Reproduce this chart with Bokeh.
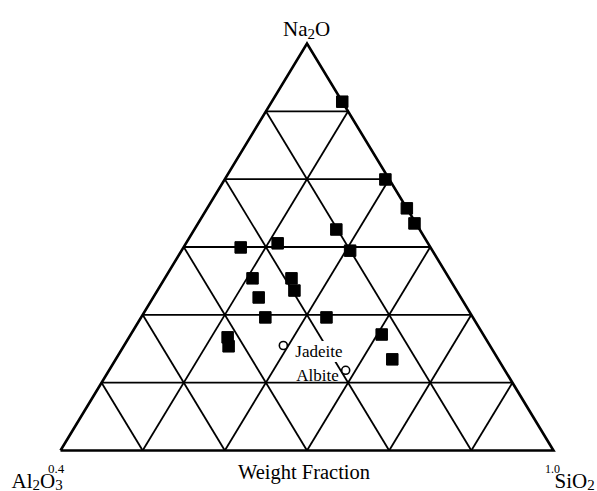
from bokeh.plotting import figure
from bokeh.models import Range1d
from bokeh.embed import file_html
from bokeh.resources import INLINE
from bokeh.core.properties import value

# ---- data (weight-fraction compositions, normalised to the diagram) ----
na2o  = [0.857, 0.666, 0.595, 0.558, 0.543, 0.491, 0.499, 0.509, 0.423,
         0.376, 0.423, 0.393, 0.327, 0.327, 0.278, 0.256, 0.285, 0.224]
sio2  = [0.143, 0.326, 0.405, 0.439, 0.288, 0.342, 0.116, 0.186, 0.178,
         0.214, 0.257, 0.278, 0.252, 0.376, 0.200, 0.213, 0.509, 0.561]
al2o3 = [0.000, 0.008, 0.000, 0.003, 0.169, 0.167, 0.385, 0.305, 0.399,
         0.410, 0.320, 0.329, 0.421, 0.297, 0.522, 0.531, 0.206, 0.215]

mineral_names = ["Jadeite", "Albite"]
mineral_na2o  = [0.258, 0.197]
mineral_sio2  = [0.323, 0.480]
mineral_al2o3 = [0.419, 0.323]

divisions = 6
tick_left, tick_right = "0.4", "1.0"
axis_title = "Weight Fraction"

FONT = "Liberation Serif"


def to_xy(na, si, al):
    xs, ys = [], []
    for a, b, c in zip(na, si, al):
        s = a + b + c
        xs.append(b / s + 0.5 * a / s)
        ys.append(a / s)
    return xs, ys


W, H = 597, 491
# triangle base from x=60..553 at y=450, apex at y=43 (canvas pixels)
p = figure(width=W, height=H, output_backend="svg", toolbar_location=None,
           min_border=0, x_range=Range1d(-60 / 493, -60 / 493 + W / 493),
           y_range=Range1d(-41 / 407, -41 / 407 + H / 407))
p.axis.visible = False
p.grid.visible = False
p.outline_line_color = None
p.background_fill_color = "white"
p.border_fill_color = "white"

# ---- internal grid ----
gx, gy = [], []
for k in range(1, divisions):
    f = k / divisions
    gx.append([f / 2, 1 - f / 2]); gy.append([f, f])
    gx.append([f, f + (1 - f) / 2]); gy.append([0, 1 - f])
    gx.append([1 - f, (1 - f) / 2]); gy.append([0, 1 - f])
p.multi_line(gx, gy, line_color="black", line_width=1.8)

# ---- outer triangle ----
p.line([0, 1, 0.5, 0], [0, 0, 1, 0], line_color="black", line_width=2.6,
       line_join="miter")

# ---- labels for reference minerals ----
mx, my = to_xy(mineral_na2o, mineral_sio2, mineral_al2o3)
p.text(x=[mx[0]], y=[my[0]], text=[mineral_names[0]], x_offset=11, y_offset=6,
       text_font=value(FONT), text_font_size="17px", text_align="left",
       text_baseline="alphabetic", text_color="black",
       background_fill_color="white", padding=1)
p.text(x=[mx[1]], y=[my[1]], text=[mineral_names[1]], x_offset=-7, y_offset=5,
       text_font=value(FONT), text_font_size="17px", text_align="right",
       text_baseline="alphabetic", text_color="black")

# ---- samples ----
sx, sy = to_xy(na2o, sio2, al2o3)
p.scatter(sx, sy, marker="square", size=11.5, fill_color="black",
          line_color="black")
p.scatter(mx, my, marker="circle", size=8, fill_color="white",
          line_color="black", line_width=1.6)

# ---- vertex labels with subscripts ----
ADV = {"N": 722, "a": 444, "O": 722, "A": 722, "l": 278, "S": 556, "i": 278,
       "2": 500, "3": 500}


def formula(parts, x, y, xo, yo, big=21, small=15, drop=5):
    cur = xo
    for txt, sub in parts:
        fs = small if sub else big
        p.text(x=[x], y=[y], text=[txt], x_offset=cur,
               y_offset=yo + (drop if sub else 0),
               text_font=value(FONT), text_font_size=f"{fs}px",
               text_align="left", text_baseline="alphabetic",
               text_color="black")
        cur += sum(ADV[c] for c in txt) * fs / 1000.0


formula([("Na", False), ("2", True), ("O", False)], 0.5, 1.0, -24, -15)
formula([("Al", False), ("2", True), ("O", False), ("3", True)], 0.0, 0.0,
        -49, 30, drop=4)
formula([("Si", False), ("O", False), ("2", True)], 1.0, 0.0, 1, 30,
        drop=4)

# ---- tick labels and axis title ----
p.text(x=[0.0], y=[0.0], text=[tick_left], x_offset=-4.5, y_offset=18,
       text_font=value(FONT), text_font_size="13px", text_align="center",
       text_baseline="alphabetic", text_color="black")
p.text(x=[1.0], y=[0.0], text=[tick_right], x_offset=-1, y_offset=18,
       text_font=value(FONT), text_font_size="12px", text_align="center",
       text_baseline="alphabetic", text_color="black")
p.text(x=[0.5], y=[0.0], text=[axis_title], x_offset=-3, y_offset=21,
       text_font=value(FONT), text_font_size="20.5px", text_align="center",
       text_baseline="alphabetic", text_color="black")

open("out.html", "w").write(file_html(p, INLINE))
